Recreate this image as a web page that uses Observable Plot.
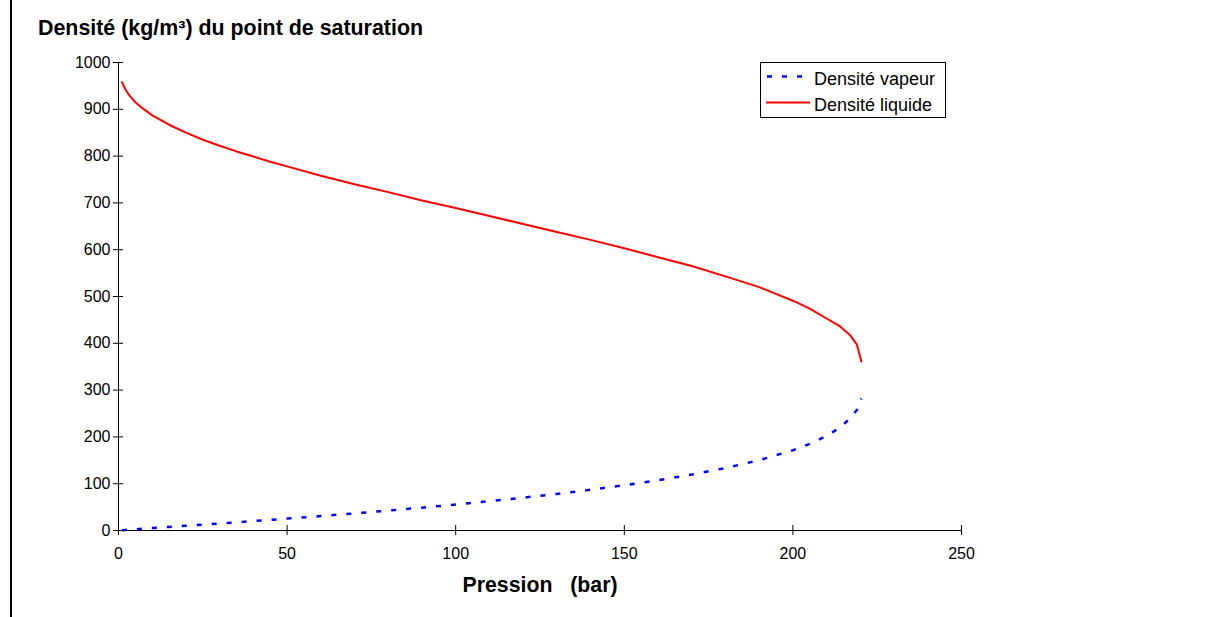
<!DOCTYPE html>
<html>
<head>
<meta charset="utf-8">
<script src="https://cdn.jsdelivr.net/npm/d3@7"></script>
<script src="https://cdn.jsdelivr.net/npm/@observablehq/plot@0.6"></script>
<style>
  html, body { margin: 0; padding: 0; background: #fff; }
  #wrap { position: relative; width: 1214px; height: 617px; overflow: hidden; font-family: "Liberation Sans", Arial, sans-serif; }
  #border { position: absolute; left: 10px; top: 0; width: 2px; height: 617px; background: #000; }
  #title { position: absolute; left: 38px; top: 18px; font-size: 21.4px; line-height: 20px; font-weight: bold; color: #000; white-space: pre; }
  #legend { position: absolute; left: 760px; top: 62px; width: 184px; height: 54px; border: 1px solid #000; background: #fff; }
  #legend svg { position: absolute; left: 0; top: 0; }
  #chart { position: absolute; left: 0; top: 0; }
  svg text { white-space: pre; }
</style>
</head>
<body>
<div id="wrap">
  <div id="chart"></div>
  <div id="border"></div>
  <div id="title">Densité (kg/m³) du point de saturation</div>
  <div id="legend"></div>
</div>
<script>
// Pressure (bar)
const pression = [1.01, 2, 3, 5, 7, 10, 15, 20, 25, 30, 35, 40, 45, 50, 60, 70, 80, 90, 100, 110, 120, 130, 140, 150, 160, 170, 180, 190, 200, 205, 210, 214, 217, 219, 220.3];
// Saturated liquid density (kg/m3)
const densiteLiquide = [958, 943, 932, 915, 903, 887, 867, 850, 835, 822, 810, 799, 788, 778, 758, 740, 723, 705, 689, 672, 655, 638, 621, 603, 584, 565, 543, 520, 491, 474, 453, 436, 417, 397, 361];
// Saturated vapour density (kg/m3)
const densiteVapeur = [0.6, 1.1, 1.6, 2.7, 3.7, 5.1, 7.6, 10.0, 12.5, 15.0, 17.5, 20.1, 22.7, 25.4, 30.8, 36.5, 42.5, 48.8, 55.5, 62.5, 70.1, 78.2, 87.0, 96.7, 107.4, 119.5, 133.5, 150.2, 171.4, 185, 202, 220, 240, 258, 282];

const xTicks = [0, 50, 100, 150, 200, 250];
const yTicks = [0, 100, 200, 300, 400, 500, 600, 700, 800, 900, 1000];
const seriesNames = ["Densité vapeur", "Densité liquide"];
const xLabel = "Pression   (bar)";

const liquide = pression.map((p, i) => ({p, d: densiteLiquide[i]}));
const vapeur = pression.map((p, i) => ({p, d: densiteVapeur[i]}));

const chart = Plot.plot({
  width: 1214,
  height: 617,
  marginLeft: 118,
  marginRight: 253,
  marginTop: 62,
  marginBottom: 87,
  style: {fontFamily: '"Liberation Sans", Arial, sans-serif', fontSize: "16px", color: "#000", background: "transparent"},
  x: {domain: [0, 250], axis: null},
  y: {domain: [0, 1000], axis: null},
  marks: [
    Plot.axisY({ticks: yTicks, tickFormat: d => String(d), tickSize: 10, dx: 5, tickPadding: 3, label: null, stroke: "#000", fontSize: 16}),
    Plot.axisX({ticks: xTicks, tickFormat: d => String(d), tickSize: 10, dy: -5, tickPadding: 12, label: null, stroke: "#000", fontSize: 16}),
    Plot.ruleX([0], {stroke: "#000", strokeWidth: 1}),
    Plot.ruleY([0], {stroke: "#000", strokeWidth: 1}),
    Plot.line(vapeur, {x: "p", y: "d", stroke: "#0000ff", strokeWidth: 2.5, strokeDasharray: "5,10", strokeLinecap: "butt"}),
    Plot.line(liquide, {x: "p", y: "d", stroke: "#ff0000", strokeWidth: 2}),
    Plot.text([xLabel], {frameAnchor: "bottom", dy: 46, lineAnchor: "top", fontSize: 21.3, fontWeight: "bold", fill: "#000"})
  ]
});
document.getElementById("chart").appendChild(chart);

// Legend
const lg = d3.select("#legend").append("svg").attr("width", 184).attr("height", 54);
const entries = [
  {name: seriesNames[0], color: "#0000ff", dash: "5,10", width: 2.5, x1: 6, x2: 46, y: 13.5, ty: 21.5},
  {name: seriesNames[1], color: "#ff0000", dash: null, width: 2, x1: 5, x2: 49, y: 39.5, ty: 47.5}
];
for (const e of entries) {
  lg.append("line").attr("x1", e.x1).attr("x2", e.x2).attr("y1", e.y).attr("y2", e.y)
    .attr("stroke", e.color).attr("stroke-width", e.width).attr("stroke-dasharray", e.dash);
  lg.append("text").attr("x", 53).attr("y", e.ty).text(e.name)
    .attr("font-family", '"Liberation Sans", Arial, sans-serif').attr("font-size", 18).attr("fill", "#000");
}
</script>
</body>
</html>
